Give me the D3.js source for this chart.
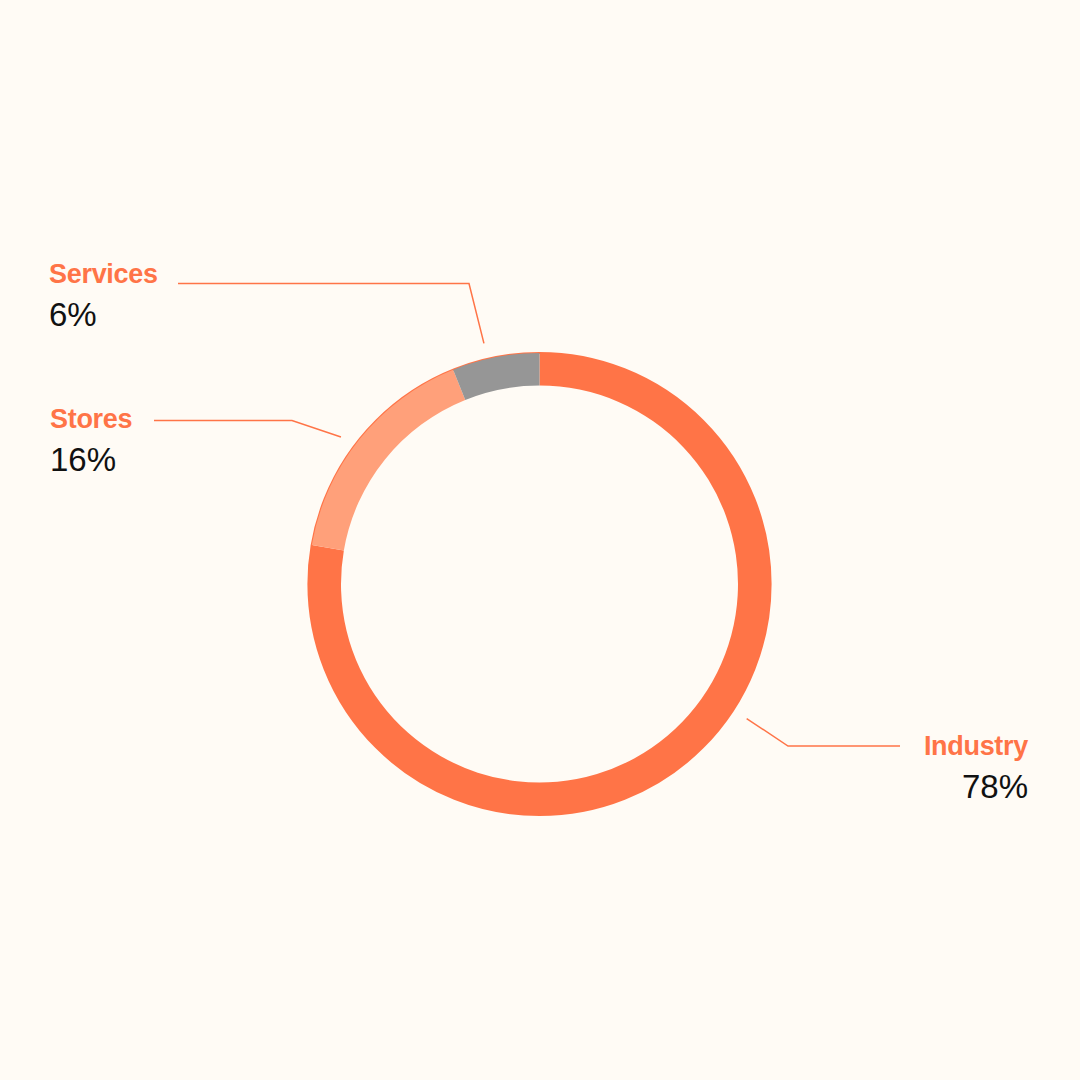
<!DOCTYPE html>
<html>
<head>
<meta charset="utf-8">
<script src="https://cdn.jsdelivr.net/npm/d3@7"></script>
<style>
  html, body { margin: 0; padding: 0; background: #fffbf5; }
  svg { display: block; }
</style>
</head>
<body>
<svg id="chart" width="1080" height="1080"></svg>
<script>
// data (shares as drawn; labels show them rounded)
var categories = ['Industry', 'Stores', 'Services'];
var shares = [77.7, 16.2, 6.1];
var sliceColors = ['#ff7447', '#ffa07a', '#969696'];

var W = 1080, H = 1080;
var cx = 539.5, cy = 584, rOuter = 231, rInner = 198.5;
var accent = '#ff7447';

// label layout: text anchor point, leader line y, elbow, and angle where the leader touches the ring
var labelLayout = {
    Industry: { x: 1028, y: 755, lineY: 746, anchor: 'end', lineStart: 900, elbow: 788, touch: 123 },
    Stores:   { x: 50,   y: 428, lineY: 420.5, anchor: 'start', lineStart: 154, elbow: 292, touch: 306.5 },
    Services: { x: 49,   y: 283, lineY: 283.5, anchor: 'start', lineStart: 178, elbow: 469, touch: 347 }
};

var svg = d3.select('#chart');
svg.append('rect').attr('width', W).attr('height', H).attr('fill', '#fffbf5');

var rows = categories.map(function (c, i) { return { name: c, value: shares[i], color: sliceColors[i] }; });

var pie = d3.pie().sort(null).value(function (d) { return d.value; });
var arc = d3.arc().innerRadius(rInner).outerRadius(rOuter);

var g = svg.append('g').attr('transform', 'translate(' + cx + ',' + cy + ')');

// thin accent rim behind the ring
g.append('circle')
    .attr('r', rOuter)
    .attr('fill', 'none')
    .attr('stroke', accent)
    .attr('stroke-width', 2.2);

g.selectAll('path.slice')
    .data(pie(rows))
    .enter()
    .append('path')
    .attr('class', 'slice')
    .attr('d', arc)
    .attr('fill', function (d) { return d.data.color; });

// leaders + labels
var leaderR = 247;
rows.forEach(function (d) {
    var L = labelLayout[d.name];
    var a = L.touch * Math.PI / 180;
    var tx = cx + leaderR * Math.sin(a), ty = cy - leaderR * Math.cos(a);
    svg.append('polyline')
        .attr('points', [[L.lineStart, L.lineY], [L.elbow, L.lineY], [tx, ty]].map(function (p) { return p.join(','); }).join(' '))
        .attr('fill', 'none')
        .attr('stroke', accent)
        .attr('stroke-width', 1.5);

    svg.append('text')
        .attr('x', L.x).attr('y', L.y)
        .attr('text-anchor', L.anchor)
        .attr('font-family', '"Liberation Sans", Arial, sans-serif')
        .attr('font-weight', 'bold')
        .attr('font-size', 27)
        .attr('letter-spacing', -0.3)
        .attr('fill', accent)
        .text(d.name);

    svg.append('text')
        .attr('x', L.x).attr('y', L.y + 43)
        .attr('text-anchor', L.anchor)
        .attr('font-family', '"Liberation Sans", Arial, sans-serif')
        .attr('font-size', 33)
        .attr('fill', '#111')
        .text(Math.round(d.value) + '%');
});
</script>
</body>
</html>
